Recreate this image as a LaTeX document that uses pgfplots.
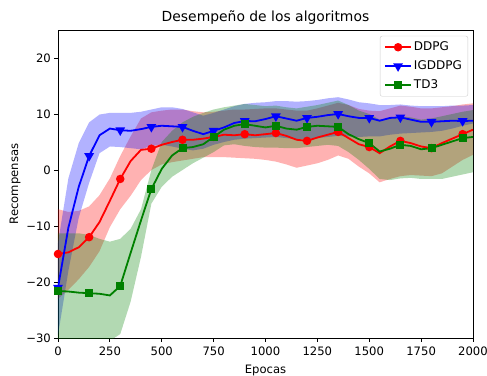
\documentclass[border=0pt]{standalone}
\usepackage{pgfplots}
\pgfplotsset{compat=1.18}
\usepackage{pgfplotstable}
\usepgfplotslibrary{fillbetween}
\usepackage{fontspec}
\setmainfont{DejaVu Sans}

\definecolor{mplred}{RGB}{255,0,0}
\definecolor{mplblue}{RGB}{0,0,255}
\definecolor{mplgreen}{RGB}{0,128,0}

% x: episode; d*/i*/t*: mean, upper and lower band of DDPG, IGDDPG and TD3
\pgfplotstableread{
x    dm    du    dl     im    iu    il     tm    tu    tl
0    -15.0 -7.0  -23.0  -21.0 -13.0 -29.5  -21.6 -11.3 -32.0
50   -14.7 -7.5  -21.4  -10.3 -1.5  -18.0  -21.7 -11.3 -31.5
100  -13.8 -7.3  -19.5  -3.0  4.8   -8.5   -21.9 -11.3 -31.0
150  -12.0 -6.5  -17.3  2.5   8.5   -2.3   -22.0 -11.6 -31.0
200  -9.3  -4.5  -14.5  6.2   9.9   3.0    -22.1 -12.3 -30.8
250  -5.5  -1.5  -10.2  7.4   10.2  4.2    -22.4 -12.8 -30.5
300  -1.6  2.5   -7.0   7.1   10.2  4.1    -20.7 -12.3 -29.3
350  1.6   6.0   -4.6   7.0   10.2  3.9    -14.8 -10.5 -23.5
400  3.6   9.2   -1.8   7.3   10.4  3.7    -9.0  -7.0  -15.5
450  3.8   10.3  0.0    7.7   10.8  4.3    -3.4  0.0   -6.0
500  4.5   10.6  1.0    7.9   11.2  4.5    0.2   5.0   -3.0
550  5.0   10.8  1.4    7.8   11.2  4.2    2.6   7.0   -1.2
600  5.4   10.8  1.7    7.7   10.9  3.8    3.9   8.5   0.0
650  5.4   10.5  2.0    7.0   10.3  3.5    4.1   9.5   1.2
700  5.6   10.3  2.3    6.4   9.7   3.8    4.6   10.2  2.2
750  5.9   10.4  2.3    7.0   10.2  4.5    5.9   10.8  3.2
800  6.3   10.6  2.3    7.6   10.8  5.0    7.2   11.2  4.4
850  6.2   10.8  2.2    8.4   11.4  5.4    7.9   11.5  4.6
900  6.4   10.8  2.1    8.75  11.8  5.6    8.2   11.8  4.3
950  6.2   10.9  2.0    8.7   12.0  5.7    7.9   11.6  4.1
1000 6.4   11.0  1.8    9.1   12.1  5.8    7.6   11.4  4.0
1050 6.6   11.0  1.5    9.6   12.3  5.9    7.9   11.5  4.0
1100 6.1   10.8  1.0    9.2   12.3  5.7    7.4   11.2  3.9
1150 5.4   10.6  0.4    8.8   12.2  5.5    7.2   11.0  3.9
1200 5.2   10.6  0.8    9.3   12.3  5.5    7.7   11.3  4.1
1250 5.8   11.0  1.2    9.5   12.5  5.7    7.9   11.6  4.3
1300 6.3   11.5  1.8    9.8   12.8  5.9    7.8   12.0  4.5
1350 6.8   12.0  2.6    10.0  13.0  6.1    7.7   12.4  4.3
1400 5.7   11.6  2.0    9.6   12.6  6.0    6.4   11.6  3.2
1450 4.6   10.9  0.6    9.3   12.1  5.9    5.5   10.6  1.8
1500 4.1   10.6  -0.6   9.3   11.9  6.0    4.8   10.0  0.2
1550 3.0   10.5  -2.2   8.8   11.6  6.0    3.3   9.0   -1.6
1600 4.2   11.0  -1.6   9.3   11.6  6.3    3.8   9.2   -1.8
1650 5.2   11.5  -1.1   9.4   11.7  6.5    4.5   9.6   -1.5
1700 4.8   11.3  -0.9   9.0   11.5  6.6    4.3   9.4   -1.4
1750 4.2   11.0  -1.0   8.6   11.4  6.7    3.7   9.0   -1.6
1800 3.9   11.0  -1.1   8.6   11.4  6.8    3.9   9.2   -1.6
1850 4.8   11.2  -0.6   8.7   11.4  7.0    4.5   9.6   -1.6
1900 5.6   11.4  0.6    8.8   11.5  7.4    5.1   10.0  -1.2
1950 6.4   11.7  1.8    8.75  11.5  7.9    5.7   10.4  -0.8
2000 7.2   11.9  2.7    8.8   11.6  8.3    5.9   10.7  -0.4
}\data

\begin{document}
\begin{tikzpicture}
\begin{axis}[
  scale only axis,
  width=415pt, height=308pt,
  xmin=0, xmax=2000, ymin=-30, ymax=25,
  axis line style={line width=0.8pt},
  tick style={line width=0.8pt, black},
  tick align=outside,
  major tick length=3.7pt,
  xtick pos=bottom, ytick pos=left,
  xtick={0,250,...,2000},
  xticklabels={0,250,500,750,1000,1250,1500,1750,2000},
  ytick={-30,-20,-10,0,10,20},
  yticklabels={−30,−20,−10,0,10,20},
  /pgf/number format/assume math mode=true,
  ticklabel style={font=\fontsize{11.6}{13}\selectfont},
  xticklabel style={yshift=-2pt},
  xlabel={Epocas},
  ylabel={Recompensas},
  label style={font=\fontsize{11.6}{13}\selectfont},
  xlabel style={yshift=-2pt},
  ylabel style={yshift=-1pt},
  title={Desempeño de los algoritmos},
  title style={font=\fontsize{13.9}{16}\selectfont, yshift=-4pt},
  legend style={
    at={(0.988,0.981)}, anchor=north east,
    draw={rgb,255:red,204;green,204;blue,204},
    rounded corners=2pt,
    font=\fontsize{12}{13}\selectfont,
    row sep=4.5pt, inner xsep=4pt, inner ysep=4pt,
    cells={anchor=west},
  },
  legend image code/.code={
    \draw[mark repeat=2, mark phase=2] plot coordinates {(0pt,0pt) (13pt,0pt) (26pt,0pt)};
  },
]
% confidence bands
\addplot[draw=none, name path=du, forget plot] table[x=x, y=du] {\data};
\addplot[draw=none, name path=dl, forget plot] table[x=x, y=dl] {\data};
\addplot[mplred, fill opacity=0.3, draw=none, forget plot] fill between[of=du and dl];

\addplot[draw=none, name path=iu, forget plot] table[x=x, y=iu] {\data};
\addplot[draw=none, name path=il, forget plot] table[x=x, y=il] {\data};
\addplot[mplblue, fill opacity=0.3, draw=none, forget plot] fill between[of=iu and il];

\addplot[draw=none, name path=tu, forget plot] table[x=x, y=tu] {\data};
\addplot[draw=none, name path=tl, forget plot] table[x=x, y=tl] {\data};
\addplot[mplgreen, fill opacity=0.3, draw=none, forget plot] fill between[of=tu and tl];

% mean curves
\addplot[mplred, line width=1.8pt, mark=*, mark size=3.3pt, mark repeat=3,
  mark options={solid}] table[x=x, y=dm] {\data};
\addlegendentry{DDPG}
\addplot[mplblue, line width=1.8pt, mark=triangle*, mark size=3.9pt, mark repeat=3,
  mark options={solid, rotate=180}] table[x=x, y=im] {\data};
\addlegendentry{IGDDPG}
\addplot[mplgreen, line width=1.8pt, mark=square*, mark size=3.1pt, mark repeat=3,
  mark options={solid}] table[x=x, y=tm] {\data};
\addlegendentry{TD3}
\end{axis}
\pgfresetboundingbox
\path[use as bounding box] (-58pt,-37pt) rectangle (429pt,338pt);
\end{tikzpicture}
\end{document}
